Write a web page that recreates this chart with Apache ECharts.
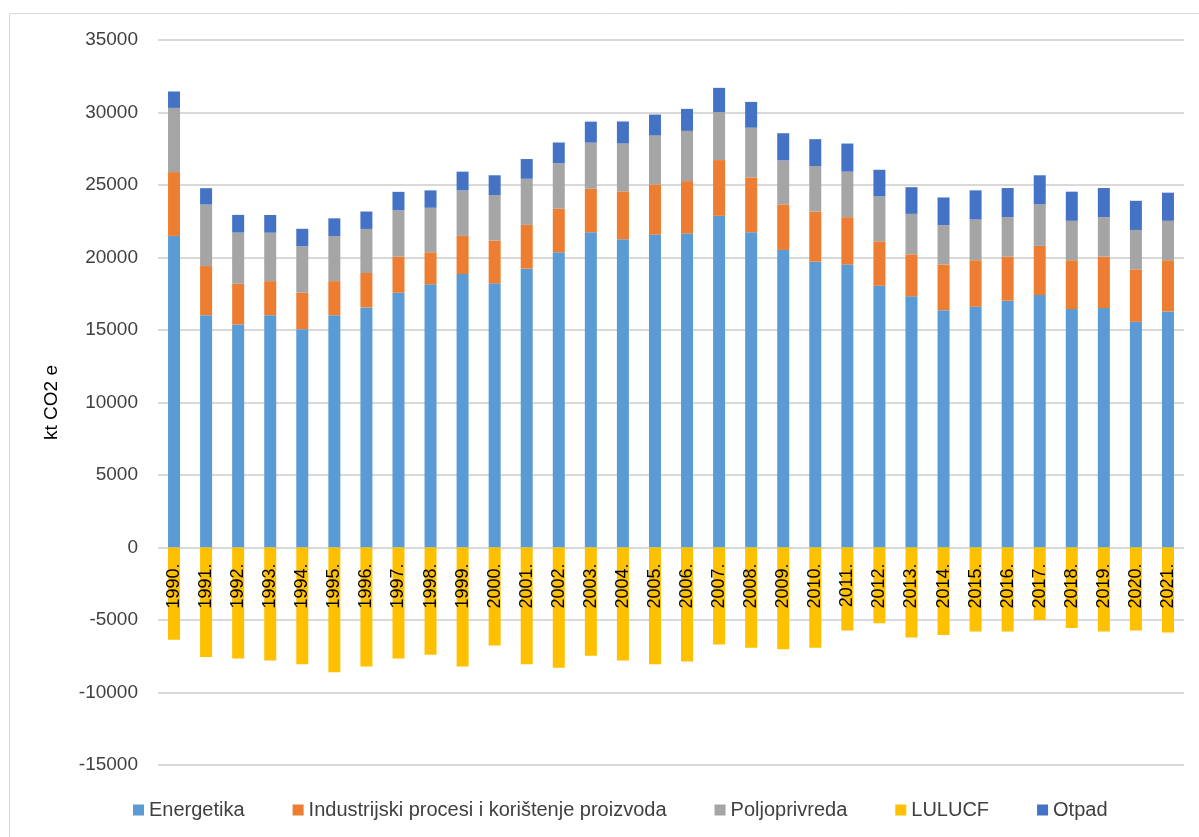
<!DOCTYPE html>
<html>
<head>
<meta charset="utf-8">
<script src="https://cdn.jsdelivr.net/npm/echarts@6/dist/echarts.min.js"></script>
<style>html,body{margin:0;padding:0;background:#fff;}#c{width:1199px;height:837px;}</style>
</head>
<body>
<div id="c"></div>
<script>
const categories = ['1990.','1991.','1992.','1993.','1994.','1995.','1996.','1997.','1998.','1999.','2000.','2001.','2002.','2003.','2004.','2005.','2006.','2007.','2008.','2009.','2010.','2011.','2012.','2013.','2014.','2015.','2016.','2017.','2018.','2019.','2020.','2021.'];
const energetika = [21490,16020,15380,16020,15060,16020,16560,17570,18150,18860,18220,19230,20360,21740,21260,21580,21650,22870,21740,20520,19710,19510,18050,17320,16370,16600,17020,17410,16440,16510,15560,16280];
const industrija = [4400,3390,2810,2350,2510,2350,2370,2490,2210,2630,2950,3020,3000,3000,3300,3460,3620,3850,3780,3140,3460,3270,3070,2900,3140,3210,3040,3390,3370,3550,3620,3530];
const poljoprivreda = [4430,4240,3530,3340,3210,3110,3040,3200,3070,3140,3140,3180,3140,3180,3300,3370,3460,3300,3430,3040,3140,3140,3090,2790,2720,2810,2720,2860,2720,2720,2720,2720];
const lulucf = [-6360,-7560,-7650,-7790,-8050,-8600,-8210,-7650,-7400,-8210,-6760,-8050,-8300,-7470,-7790,-8050,-7860,-6690,-6920,-7010,-6920,-5720,-5230,-6200,-6040,-5790,-5790,-5000,-5560,-5790,-5720,-5860];
const otpad = [1130,1130,1220,1220,1200,1220,1200,1270,1200,1290,1360,1360,1430,1450,1520,1450,1520,1680,1780,1870,1850,1940,1840,1840,1910,2010,2010,2010,2010,2010,2010,1940];
const yTicks = {min:-15000, max:35000, interval:5000};

const FONT = 'Liberation Sans';
const GRID = {left:158, right:15, top:40, bottom:72};
const H = 837;
const plotH = H - GRID.top - GRID.bottom;
// distance from grid bottom edge up to the zero line, derived from the axis range
const zeroOffset = plotH * (0 - yTicks.min) / (yTicks.max - yTicks.min);

const chart = echarts.init(document.getElementById('c'));
function s(name, data, color){
  return {name, type:'bar', stack:'total', data, barWidth:12, itemStyle:{color}, emphasis:{disabled:true}};
}
chart.setOption({
  animation:false,
  textStyle:{fontFamily:FONT},
  graphic:[{type:'rect', shape:{x:9.5,y:13.5,width:1400,height:1000}, style:{fill:'none', stroke:'#d9d9d9', lineWidth:1}, silent:true}],
  grid:Object.assign({containLabel:false}, GRID),
  legend:{
    top:795, left:128, itemWidth:11, itemHeight:11, itemGap:48, icon:'rect',
    textStyle:{fontSize:20, color:'#404040', fontFamily:FONT},
    data:['Energetika','Industrijski procesi i korištenje proizvoda','Poljoprivreda','LULUCF','Otpad']
  },
  xAxis:{
    type:'category', data:categories, z:10, position:'bottom', offset:-zeroOffset,
    axisLine:{show:false, onZero:false}, axisTick:{show:false},
    axisLabel:{rotate:90, margin:16, fontSize:18, color:'#000', fontFamily:FONT}
  },
  yAxis:{
    type:'value', min:yTicks.min, max:yTicks.max, interval:yTicks.interval,
    name:'kt CO2 e', nameLocation:'middle', nameRotate:90, nameGap:97,
    nameTextStyle:{fontSize:19, color:'#000', fontFamily:FONT},
    axisLine:{show:false}, axisTick:{show:false},
    axisLabel:{fontSize:19, color:'#404040', margin:20, fontFamily:FONT, formatter:v=>String(v)},
    splitLine:{lineStyle:{color:'#d9d9d9', width:2}}
  },
  series:[
    s('Energetika', energetika, '#5B9BD5'),
    s('Industrijski procesi i korištenje proizvoda', industrija, '#ED7D31'),
    s('Poljoprivreda', poljoprivreda, '#A5A5A5'),
    s('LULUCF', lulucf, '#FFC000'),
    s('Otpad', otpad, '#4472C4')
  ]
});
</script>
</body>
</html>
